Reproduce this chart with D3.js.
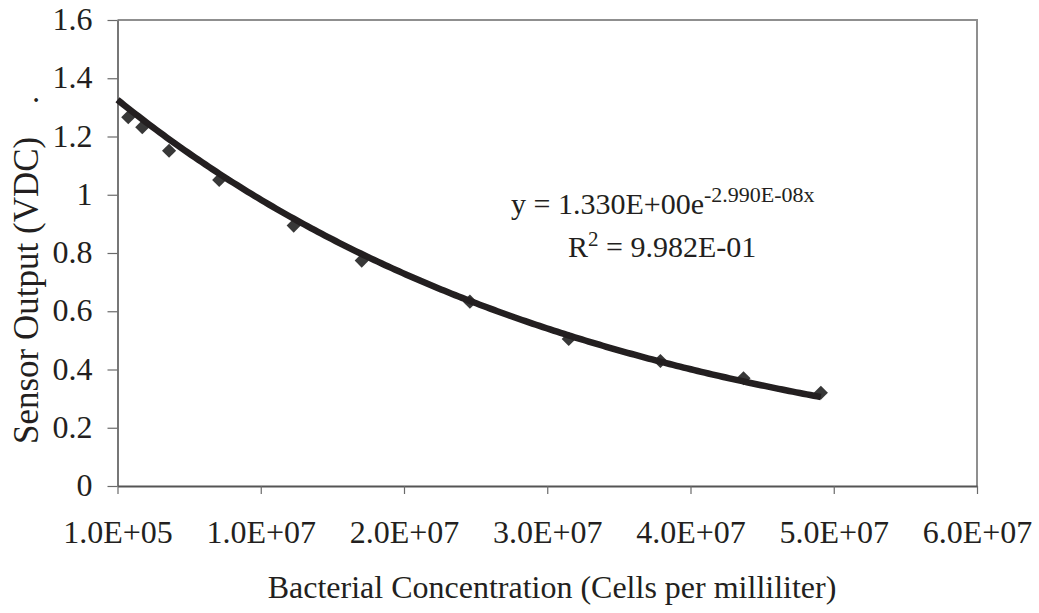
<!DOCTYPE html>
<html>
<head>
<meta charset="utf-8">
<script src="https://cdn.jsdelivr.net/npm/d3@7"></script>
<style>
  body { margin: 0; background: #fff; }
  svg { display: block; }
  text { font-family: "Liberation Serif", "Times New Roman", serif; fill: #231f20; }
</style>
</head>
<body>
<svg id="chart" width="1039" height="613"></svg>
<script>
// Measured sensor output versus bacterial concentration
const concentration = [8.5e5, 1.83e6, 3.7e6, 7.2e6, 1.24e7, 1.715e7, 2.47e7, 3.16e7, 3.8e7, 4.38e7, 4.92e7];
const sensorOutput  = [1.266, 1.232, 1.151, 1.051, 0.894, 0.774, 0.633, 0.505, 0.429, 0.370, 0.320];

// Axis ticks and their labels
const xTickValues = [1e5, 1.01e7, 2.01e7, 3.01e7, 4.01e7, 5.01e7, 6.01e7];
const xTickLabels = ["1.0E+05", "1.0E+07", "2.0E+07", "3.0E+07", "4.0E+07", "5.0E+07", "6.0E+07"];
const yTickValues = [0, 0.2, 0.4, 0.6, 0.8, 1.0, 1.2, 1.4, 1.6];
const yTickLabels = ["0", "0.2", "0.4", "0.6", "0.8", "1", "1.2", "1.4", "1.6"];

// Exponential trendline y = a * e^(b x)
const fitA = 1.330;
const fitB = -2.990e-8;
const rSquared = 0.9982;

const plot = { left: 117.5, right: 977, top: 20, bottom: 486 };
const TICK_FONT = 32;

const svg = d3.select("#chart");

const x = d3.scaleLinear().domain([xTickValues[0], xTickValues[xTickValues.length - 1]]).range([plot.left, plot.right]);
const y = d3.scaleLinear().domain([0, 1.6]).range([plot.bottom, plot.top]);

// Spreadsheet-style scientific notation, e.g. 1.330E+00
function sci(v, digits) {
  const [m, e] = v.toExponential(digits).split("e");
  const n = +e;
  return m + "E" + (n < 0 ? "-" : "+") + String(Math.abs(n)).padStart(2, "0");
}

// Frame: top and right edges
svg.append("path")
  .attr("d", `M${plot.left},${plot.top}H${plot.right}V${plot.bottom}`)
  .attr("fill", "none").attr("stroke", "#8f8f8f").attr("stroke-width", 2);

// Y axis
const yAxis = svg.append("g")
  .attr("transform", `translate(${plot.left},0)`)
  .call(d3.axisLeft(y).tickValues(yTickValues).tickSize(10).tickSizeOuter(0).tickPadding(15)
    .tickFormat((d, i) => yTickLabels[i]));
yAxis.attr("font-family", null);
yAxis.select(".domain").attr("stroke", "#555").attr("stroke-width", 1.6);
yAxis.selectAll(".tick line").attr("stroke", "#6a6a6a").attr("stroke-width", 1.2);
yAxis.selectAll(".tick text")
  .attr("font-size", TICK_FONT).attr("fill", "#231f20").attr("dy", "0.3em");

// X axis
const xAxis = svg.append("g")
  .attr("transform", `translate(0,${plot.bottom})`)
  .call(d3.axisBottom(x).tickValues(xTickValues).tickSize(8).tickSizeOuter(0)
    .tickFormat((d, i) => xTickLabels[i]));
xAxis.attr("font-family", null);
xAxis.select(".domain").attr("stroke", "#555").attr("stroke-width", 2);
xAxis.selectAll(".tick line").attr("stroke", "#6a6a6a").attr("stroke-width", 1.2);
xAxis.selectAll(".tick text")
  .attr("font-size", TICK_FONT).attr("fill", "#231f20")
  .attr("y", 57).attr("dy", 0);

// Axis titles
svg.append("text")
  .attr("x", 552).attr("y", 598)
  .attr("text-anchor", "middle").attr("font-size", 32)
  .text("Bacterial Concentration (Cells per milliliter)");

svg.append("text")
  .attr("transform", "translate(38,444) rotate(-90)")
  .attr("text-anchor", "start").attr("font-size", 35)
  .text("Sensor Output (VDC)");
svg.append("text")
  .attr("transform", "translate(38,100) rotate(-90)")
  .attr("text-anchor", "middle").attr("font-size", 32)
  .text(".");

// Data markers (diamonds)
svg.append("g").selectAll("path")
  .data(concentration)
  .join("path")
  .attr("transform", (d, i) => `translate(${x(d)},${y(sensorOutput[i])}) rotate(45)`)
  .attr("d", d3.symbol(d3.symbolSquare, 100))
  .attr("fill", "#383838");

// Trendline from the fitted equation, spanning the axis start to the last sample
const trendX = d3.range(0, 201).map(i => xTickValues[0] + (d3.max(concentration) - xTickValues[0]) * i / 200);
const line = d3.line().x(d => x(d)).y(d => y(fitA * Math.exp(fitB * d)));
svg.append("path")
  .datum(trendX)
  .attr("d", line)
  .attr("fill", "none")
  .attr("stroke", "#231f20")
  .attr("stroke-width", 6.5)
  .attr("stroke-linejoin", "round");

// Equation and R-squared annotation
const eq = svg.append("text")
  .attr("x", 511).attr("y", 214)
  .attr("font-size", 30);
eq.append("tspan").text(`y = ${sci(fitA, 3)}e`);
eq.append("tspan").attr("font-size", 22).attr("dy", -12).text(`${sci(fitB, 3)}x`);

const r2 = svg.append("text")
  .attr("x", 568).attr("y", 257)
  .attr("font-size", 30);
r2.append("tspan").text("R");
r2.append("tspan").attr("font-size", 21).attr("dy", -11).text("2");
r2.append("tspan").attr("dy", 11).text(` = ${sci(rSquared, 3)}`);
</script>
</body>
</html>
